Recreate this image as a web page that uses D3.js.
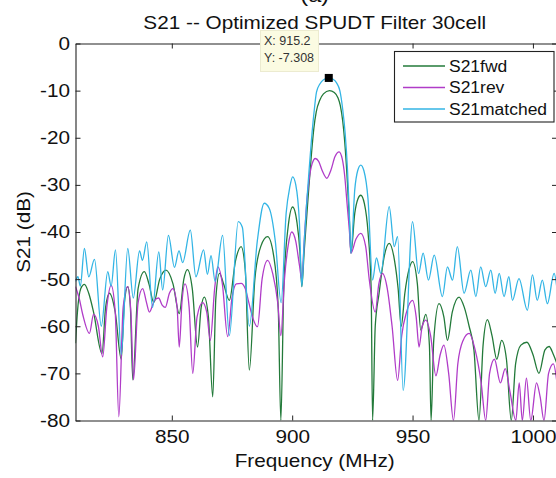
<!DOCTYPE html>
<html><head><meta charset="utf-8">
<script src="https://cdn.jsdelivr.net/npm/d3@7"></script>
<style>
html,body{margin:0;padding:0;background:#fff;}
svg{display:block;font-family:"Liberation Sans",Arial,sans-serif;}
</style></head><body>
<svg id="chart" width="556" height="478"></svg>
<script>
// ---------------- data ----------------
const matchedFreq = [810.0,811.0,812.0,813.7,815.5,817.9,820.7,823.4,824.8,826.6,829.0,831.7,834.0,836.6,837.8,839.6,842.0,844.6,846.2,848.6,851.1,853.0,854.5,857.7,860.0,863.2,864.8,866.3,868.0,871.1,873.9,877.6,879.3,882.2,885.5,888.4,890.5,893.0,895.4,897.5,899.0,900.2,901.5,903.0,904.0,905.0,906.0,907.0,908.0,909.0,910.1,911.5,913.0,915.2,917.0,918.5,919.8,921.0,922.0,923.0,923.8,924.4,926.0,927.2,928.5,929.8,931.5,933.4,935.0,936.8,940.3,942.4,943.8,946.1,950.0,952.5,954.4,956.6,959.0,962.4,964.5,966.6,968.6,971.4,974.2,976.3,978.3,980.4,982.5,984.3,986.0,988.0,990.0,991.5,994.2,997.7,999.8,1001.8,1003.9,1006.0,1008.8,1010.0];
const matchedDb   = [-50.5,-49.5,-51.5,-43.5,-49.5,-45.8,-60.0,-48.4,-51.5,-43.8,-66.0,-43.5,-54.0,-44.0,-46.0,-42.1,-56.0,-44.2,-52.3,-40.7,-47.5,-44.0,-46.5,-39.6,-49.5,-43.8,-49.0,-45.0,-50.5,-40.7,-62.0,-37.8,-39.0,-60.0,-42.0,-33.9,-35.0,-42.0,-55.0,-36.0,-30.5,-28.3,-30.0,-38.0,-51.6,-42.0,-34.0,-27.0,-20.5,-15.0,-10.3,-8.6,-7.7,-7.3,-7.6,-8.4,-10.0,-14.0,-19.0,-27.0,-37.0,-44.5,-31.0,-27.0,-25.8,-27.0,-33.0,-50.2,-45.5,-48.8,-34.6,-43.1,-41.0,-73.6,-37.8,-48.8,-44.5,-50.2,-44.9,-53.7,-47.4,-50.2,-43.1,-53.0,-48.1,-53.7,-47.4,-51.6,-48.1,-53.0,-48.8,-53.7,-49.5,-54.5,-49.9,-56.6,-49.1,-54.5,-50.2,-55.2,-48.8,-52.0];

const fwdFreq = [810.0,810.8,812.2,813.7,815.5,817.5,821.0,822.5,824.1,826.5,829.0,830.3,831.7,832.8,833.8,836.0,838.6,840.5,842.5,845.0,847.6,850.5,853.1,855.0,856.5,858.5,860.7,862.2,863.5,865.2,867.0,868.3,869.8,871.5,873.9,876.5,878.8,880.5,882.2,884.5,887.0,889.8,892.3,894.2,895.3,896.5,898.3,900.2,902.0,903.2,904.0,905.0,906.0,907.0,908.0,909.0,910.0,911.5,913.0,915.5,917.5,919.0,920.0,921.0,922.0,923.0,923.8,924.4,926.0,927.3,928.5,930.0,931.5,932.8,933.4,934.5,936.1,938.3,940.3,942.5,944.0,945.3,946.8,948.5,950.0,952.0,953.4,955.5,957.0,957.7,958.8,961.0,963.0,964.5,966.5,969.3,971.5,973.5,975.5,977.6,979.3,981.1,983.0,985.0,987.0,989.0,991.0,992.8,995.0,997.5,1000.0,1002.5,1005.0,1006.7,1008.5,1010.0];
const fwdDb   = [-63.6,-57.0,-52.0,-51.1,-53.0,-57.0,-65.8,-56.0,-53.0,-57.0,-67.0,-55.0,-51.6,-56.0,-71.4,-52.0,-48.4,-51.0,-55.0,-50.0,-48.1,-51.0,-57.3,-50.0,-48.0,-52.0,-64.4,-56.0,-53.8,-58.0,-75.0,-54.0,-48.8,-51.0,-54.5,-46.0,-43.1,-48.0,-69.3,-50.0,-43.0,-41.0,-45.0,-56.0,-80.0,-52.0,-39.0,-34.7,-38.0,-44.0,-51.6,-44.0,-37.0,-30.0,-23.5,-18.0,-14.5,-12.0,-10.7,-10.0,-10.4,-11.5,-13.2,-16.5,-22.0,-30.0,-38.0,-44.5,-36.0,-33.0,-32.2,-34.0,-40.0,-52.0,-80.0,-60.0,-53.0,-45.0,-42.4,-46.0,-52.0,-60.0,-53.0,-48.0,-46.3,-51.0,-60.8,-57.5,-64.0,-80.0,-63.0,-55.2,-58.0,-63.0,-57.0,-53.8,-56.0,-60.0,-65.0,-80.0,-64.0,-58.6,-62.0,-67.0,-63.0,-67.0,-80.0,-68.0,-64.0,-63.4,-66.0,-70.0,-65.0,-64.3,-66.0,-68.0];

const revFreq = [810.0,811.5,813.0,815.8,817.5,819.5,821.3,823.0,824.8,826.5,828.0,829.8,831.7,833.0,834.1,836.0,837.9,839.5,840.7,842.8,844.5,846.0,847.3,849.0,850.5,852.2,853.1,854.2,855.5,857.2,858.7,860.5,862.8,864.5,866.0,867.8,869.1,871.0,873.2,875.0,876.8,878.8,880.5,882.0,883.5,885.6,887.5,889.8,892.0,894.0,895.3,896.8,898.3,899.8,901.5,903.0,904.0,905.0,906.0,907.0,908.3,909.6,911.0,912.5,914.4,916.0,917.8,919.5,920.8,921.8,922.8,923.8,924.4,926.5,928.5,930.5,932.0,934.5,936.0,937.5,939.5,941.5,943.8,945.5,947.5,950.0,951.5,952.7,954.0,955.5,957.5,959.7,961.5,963.0,965.0,967.0,968.8,971.0,973.5,976.0,978.5,980.4,982.0,984.0,986.5,988.5,990.5,992.9,994.3,995.6,997.3,999.1,1001.5,1003.0,1004.6,1006.5,1008.5,1010.0];
const revDb   = [-51.6,-54.0,-57.5,-61.5,-57.5,-60.0,-66.5,-56.0,-51.3,-57.0,-79.2,-56.0,-51.6,-57.0,-71.4,-55.0,-52.0,-55.0,-57.0,-54.5,-54.0,-55.5,-56.0,-53.0,-52.0,-56.0,-64.4,-55.0,-51.0,-56.0,-70.0,-58.0,-55.0,-57.0,-63.0,-52.0,-47.4,-51.0,-62.2,-54.0,-51.0,-50.9,-52.0,-55.0,-58.0,-60.1,-50.0,-46.0,-49.0,-55.0,-62.0,-50.0,-43.0,-40.0,-42.0,-47.0,-50.0,-42.0,-34.0,-29.0,-25.5,-24.4,-25.0,-27.0,-28.6,-27.0,-24.0,-23.0,-24.5,-28.0,-34.0,-40.0,-44.5,-41.5,-40.3,-43.0,-50.0,-57.0,-51.0,-48.8,-52.0,-60.0,-71.5,-62.0,-57.0,-54.5,-58.0,-64.4,-60.0,-58.7,-62.0,-70.5,-66.0,-64.0,-70.0,-80.0,-68.0,-63.0,-61.5,-65.0,-72.0,-80.0,-70.0,-67.0,-72.0,-69.0,-74.0,-80.0,-72.0,-80.0,-71.0,-80.0,-72.0,-75.0,-80.0,-70.0,-68.0,-72.0];

const seriesNames = ["S21fwd","S21rev","S21matched"];
const xTickValues = [850,900,950,1000];
const yTickValues = [0,-10,-20,-30,-40,-50,-60,-70,-80];
const tipX = 915.2, tipY = -7.308;
const titleText = "S21 -- Optimized SPUDT Filter 30cell";
const panelText = "(a)";
const xLabel = "Frequency (MHz)";
const yLabel = "S21 (dB)";

// ---------------- layout / style ----------------
const colors = {S21fwd:"#237a3a", S21rev:"#b03cc8", S21matched:"#33b5e5"};
const axisColor = "#222";
const STRETCH = 1.12;
const svg = d3.select("#chart");
const L = 75.5, R = 557, T = 43.5, B = 420.5;
const x = d3.scaleLinear().domain([810,1010]).range([L,R]);
const y = d3.scaleLinear().domain([-80,0]).range([B,T]);

function stretch(sel, k){
  sel.each(function(){
    const w = this.getComputedTextLength();
    d3.select(this).attr("textLength", w*k).attr("lengthAdjust","spacingAndGlyphs");
  });
}

svg.append("rect").attr("width",556).attr("height",478).attr("fill","#fff");
svg.append("rect").attr("x",L).attr("y",T).attr("width",R-L).attr("height",B-T).attr("fill","#fff");

svg.append("clipPath").attr("id","plotclip").append("rect")
  .attr("x",L).attr("y",T).attr("width",R-L).attr("height",B-T);

const series = [
  {name:"S21fwd", f:fwdFreq, v:fwdDb},
  {name:"S21rev", f:revFreq, v:revDb},
  {name:"S21matched", f:matchedFreq, v:matchedDb}
];
const line = d3.line().x(d=>x(d[0])).y(d=>y(d[1])).curve(d3.curveMonotoneX);
const g = svg.append("g").attr("clip-path","url(#plotclip)");
series.forEach(s=>{
  g.append("path").datum(s.f.map((f,i)=>[f,s.v[i]]))
    .attr("fill","none").attr("stroke",colors[s.name]).attr("stroke-width",1.3)
    .attr("stroke-linejoin","round").attr("d",line);
});

// axes
function styleAxis(ax){
  ax.select(".domain").attr("stroke",axisColor).attr("stroke-width",1.1);
  ax.selectAll(".tick line").attr("stroke",axisColor);
  ax.selectAll(".tick text").attr("fill","#111").attr("font-size",18.5)
    .attr("font-family","'Liberation Sans',Arial,sans-serif");
}
const fmt = d=>String(d);
const xb = svg.append("g").attr("transform",`translate(0,${B})`)
  .call(d3.axisBottom(x).tickValues(xTickValues).tickFormat(fmt).tickSize(-5).tickSizeOuter(0).tickPadding(9.4));
styleAxis(xb);
const xt = svg.append("g").attr("transform",`translate(0,${T})`)
  .call(d3.axisTop(x).tickValues(xTickValues).tickFormat("").tickSize(-5).tickSizeOuter(0));
styleAxis(xt);
const yl = svg.append("g").attr("transform",`translate(${L},0)`)
  .call(d3.axisLeft(y).tickValues(yTickValues).tickFormat(fmt).tickSize(-5).tickSizeOuter(0).tickPadding(5.5));
styleAxis(yl);
const yr = svg.append("g").attr("transform",`translate(${R},0)`)
  .call(d3.axisRight(y).tickValues(yTickValues).tickFormat("").tickSize(-5).tickSizeOuter(0));
styleAxis(yr);
stretch(xb.selectAll(".tick text"), STRETCH);
stretch(yl.selectAll(".tick text"), STRETCH);

// titles / labels
const tx = (L+R)/2 - 1.5;
stretch(svg.append("text").attr("x",tx).attr("y",2).attr("text-anchor","middle")
  .attr("font-size",21).attr("fill","#111").text(panelText), STRETCH);
stretch(svg.append("text").attr("x",tx).attr("y",28.5).attr("text-anchor","middle")
  .attr("font-size",18.5).attr("fill","#111").text(titleText), STRETCH);
stretch(svg.append("text").attr("x",tx).attr("y",466.5).attr("text-anchor","middle")
  .attr("font-size",18.5).attr("fill","#111").text(xLabel), STRETCH);
stretch(svg.append("text").attr("transform",`translate(30,${(T+B)/2}) rotate(-90)`).attr("text-anchor","middle")
  .attr("font-size",18.5).attr("fill","#111").text(yLabel), STRETCH);

// legend
const lg = svg.append("g");
lg.append("rect").attr("x",394.5).attr("y",51.5).attr("width",159.5).attr("height",70.5)
  .attr("fill","#fff").attr("stroke",axisColor).attr("stroke-width",1.1);
const legY = [66, 87.5, 109];
seriesNames.forEach((n,i)=>{
  lg.append("line").attr("x1",403).attr("x2",445).attr("y1",legY[i]).attr("y2",legY[i])
    .attr("stroke",colors[n]).attr("stroke-width",1.3);
  stretch(lg.append("text").attr("x",449).attr("y",legY[i]+5.6).attr("font-size",15.6)
    .attr("fill","#111").text(n), STRETCH);
});

// data tip
const dt = svg.append("g");
dt.append("rect").attr("x",260.5).attr("y",30.5).attr("width",58).attr("height",41)
  .attr("fill","#fbfbe2").attr("stroke","#ecebd0").attr("stroke-width",1);
stretch(dt.append("text").attr("x",264).attr("y",45).attr("font-size",12.5).attr("fill","#333")
  .text("X: " + tipX), 1.0);
stretch(dt.append("text").attr("x",264).attr("y",62).attr("font-size",12.5).attr("fill","#333")
  .text("Y: " + tipY), 1.0);
dt.append("rect").attr("x",x(tipX)-4).attr("y",y(tipY)-4).attr("width",8).attr("height",8).attr("fill","#000");
</script>
</body></html>
